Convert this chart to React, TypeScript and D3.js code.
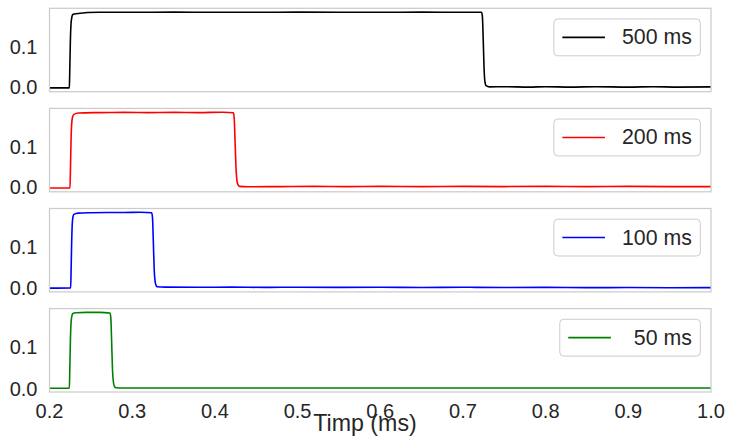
import React from "react";
import * as d3 from "d3";

const W = 730;
const H = 443;

const xTicks = [0.2, 0.3, 0.4, 0.5, 0.6, 0.7, 0.8, 0.9, 1.0];
const yTicks = [0.0, 0.1];
const xLabel = "Timp (ms)";

const labels = ["500 ms", "200 ms", "100 ms", " 50 ms"];
const colors = ["#000000", "#ff0000", "#0000ff", "#008000"];

const t500 = [0.2, 0.21, 0.224, 0.2245, 0.2252, 0.226, 0.227, 0.2282, 0.232, 0.26, 0.3, 0.35, 0.4, 0.45, 0.5, 0.55, 0.6, 0.65, 0.7, 0.7225, 0.7235, 0.7245, 0.7255, 0.7265, 0.728, 0.732, 0.75, 0.78, 0.8, 0.83, 0.86, 0.9, 0.93, 0.96, 1.0];
const v500 = [-0.0015, -0.0015, -0.0015, 0.04, 0.11, 0.155, 0.172, 0.179, 0.181, 0.1845, 0.1845, 0.185, 0.1845, 0.1845, 0.185, 0.1845, 0.1845, 0.185, 0.1845, 0.1845, 0.175, 0.12, 0.05, 0.015, 0.004, 0.001, 0.0015, 0.0005, 0.0015, 0.0005, 0.0015, 0.0005, 0.0015, 0.0005, 0.001];

const t200 = [0.2, 0.21, 0.2248, 0.2253, 0.226, 0.2268, 0.2278, 0.2295, 0.235, 0.26, 0.29, 0.32, 0.35, 0.38, 0.41, 0.4223, 0.4233, 0.4243, 0.4255, 0.4268, 0.428, 0.4296, 0.44, 0.48, 0.52, 0.56, 0.6, 0.65, 0.7, 0.75, 0.8, 0.85, 0.9, 0.95, 1.0];
const v200 = [-0.002, -0.002, -0.0018, 0.04, 0.11, 0.155, 0.172, 0.179, 0.1825, 0.1835, 0.184, 0.1835, 0.184, 0.1835, 0.1845, 0.183, 0.172, 0.12, 0.05, 0.015, 0.006, 0.002, 0.001, 0.0015, 0.002, 0.0015, 0.002, 0.0015, 0.002, 0.0015, 0.002, 0.0015, 0.002, 0.0015, 0.0015];

const t100 = [0.2, 0.21, 0.2256, 0.2261, 0.2268, 0.2275, 0.2283, 0.2295, 0.235, 0.25, 0.27, 0.29, 0.31, 0.3236, 0.3246, 0.3256, 0.3266, 0.3278, 0.329, 0.3305, 0.34, 0.38, 0.42, 0.46, 0.5, 0.55, 0.6, 0.65, 0.7, 0.75, 0.8, 0.85, 0.9, 0.95, 1.0];
const v100 = [-0.0012, -0.0012, -0.001, 0.04, 0.11, 0.155, 0.172, 0.179, 0.182, 0.183, 0.1835, 0.1835, 0.184, 0.183, 0.17, 0.11, 0.045, 0.014, 0.005, 0.002, 0.0012, 0.0008, 0.0012, 0.0005, 0.001, 0.0006, 0.001, 0.0004, 0.0008, 0.0002, 0.0005, 0.0, 0.0002, -0.0002, 0.0];

const t50 = [0.2, 0.21, 0.224, 0.2245, 0.2252, 0.226, 0.227, 0.2282, 0.232, 0.245, 0.26, 0.2732, 0.2742, 0.2752, 0.2762, 0.2774, 0.2786, 0.2805, 0.29, 0.32, 0.36, 0.4, 0.45, 0.5, 0.55, 0.6, 0.65, 0.7, 0.75, 0.8, 0.85, 0.9, 0.95, 1.0];
const v50 = [0.0008, 0.0008, 0.0008, 0.04, 0.11, 0.158, 0.175, 0.182, 0.1838, 0.1845, 0.1845, 0.183, 0.17, 0.11, 0.045, 0.014, 0.005, 0.002, 0.0012, 0.0014, 0.0012, 0.0014, 0.0012, 0.0013, 0.0012, 0.0014, 0.0012, 0.0013, 0.0012, 0.0014, 0.0012, 0.0013, 0.0012, 0.0013];

const seriesT = [t500, t200, t100, t50];
const seriesV = [v500, v200, v100, v50];

const FONT = "'Liberation Sans', Arial, Helvetica, sans-serif";
const TICK_FS = 20;
const LEG_FS = 21.3;
const XLABEL_FS = 23.2;
const TEXT_COLOR = "#262626";
const EDGE = "#cccccc";

function measure(text: string, fs: number): number {
  if (typeof document === "undefined") return text.length * fs * 0.55;
  const c = document.createElement("canvas");
  const ctx = c.getContext("2d");
  if (!ctx) return text.length * fs * 0.55;
  ctx.font = `${fs}px 'Liberation Sans', Arial, sans-serif`;
  return ctx.measureText(text).width;
}

export default function App() {
  const left = 49.5;
  const right = 711;
  const panelTop0 = 8.3;
  const panelStep = 100.1;
  const panelH = 83.4;

  const x = d3.scaleLinear().domain([0.2, 1.0]).range([left, right]);

  const panels = seriesT.map((ts, i) => {
    const vs = seriesV[i];
    const [mn, mx] = d3.extent(vs) as [number, number];
    const pad = (mx - mn) * 0.05;
    const top = panelTop0 + i * panelStep;
    const y = d3.scaleLinear().domain([mn - pad, mx + pad]).range([top + panelH, top]);
    const pts: [number, number][] = ts.map((t, j) => [t, vs[j]]);
    const line = d3
      .line<[number, number]>()
      .x((d) => x(d[0]))
      .y((d) => y(d[1]))
      .curve(d3.curveMonotoneX);
    return { top, y, path: line(pts) || "", i };
  });

  const bottom = panels[3].top + panelH;

  return (
    <svg
      width={W}
      height={H}
      style={{ position: "absolute", left: 0, top: 0, background: "#fff" }}
      fontFamily={FONT}
    >
      <rect x={0} y={0} width={W} height={H} fill="#fff" />
      {panels.map((p) => {
        const label = labels[p.i];
        const tw = measure(label, LEG_FS);
        const bw = 0.4 * LEG_FS * 2 + 2 * LEG_FS + 0.8 * LEG_FS + tw;
        const bh = 0.4 * LEG_FS * 2 + 0.93 * LEG_FS;
        const bx = right - 0.5 * LEG_FS - bw;
        const by = p.top + 0.5 * LEG_FS;
        const cy = by + bh / 2;
        const lx0 = bx + 0.4 * LEG_FS;
        const lx1 = lx0 + 2 * LEG_FS;
        const tx = lx1 + 0.8 * LEG_FS;
        return (
          <g key={p.i}>
            <defs>
              <clipPath id={`clip${p.i}`}>
                <rect x={left} y={p.top} width={right - left} height={panelH} />
              </clipPath>
            </defs>
            <path
              d={p.path}
              fill="none"
              stroke={colors[p.i]}
              strokeWidth={1.6}
              strokeLinejoin="round"
              clipPath={`url(#clip${p.i})`}
            />
            <rect
              x={left}
              y={p.top}
              width={right - left}
              height={panelH}
              fill="none"
              stroke={EDGE}
              strokeWidth={1.25}
            />
            {yTicks.map((v) => (
              <text
                key={v}
                x={37.5}
                y={p.y(v)}
                textAnchor="end"
                dominantBaseline="central"
                fontSize={TICK_FS}
                fill={TEXT_COLOR}
              >
                {v.toFixed(1)}
              </text>
            ))}
            <rect
              x={bx}
              y={by}
              width={bw}
              height={bh}
              rx={4}
              ry={4}
              fill="#ffffff"
              fillOpacity={0.8}
              stroke={EDGE}
              strokeWidth={1}
            />
            <line x1={lx0} x2={lx1} y1={cy} y2={cy} stroke={colors[p.i]} strokeWidth={1.6} />
            <text
              x={tx}
              y={cy}
              dominantBaseline="central"
              fontSize={LEG_FS}
              fill={TEXT_COLOR}
              style={{ whiteSpace: "pre" }}
              xmlSpace="preserve"
            >
              {label}
            </text>
          </g>
        );
      })}
      {xTicks.map((t) => (
        <text
          key={t}
          x={x(t)}
          y={bottom + 26}
          textAnchor="middle"
          fontSize={TICK_FS}
          fill={TEXT_COLOR}
        >
          {t.toFixed(1)}
        </text>
      ))}
      <text x={W / 2} y={431} textAnchor="middle" fontSize={XLABEL_FS} fill={TEXT_COLOR}>
        {xLabel}
      </text>
    </svg>
  );
}
